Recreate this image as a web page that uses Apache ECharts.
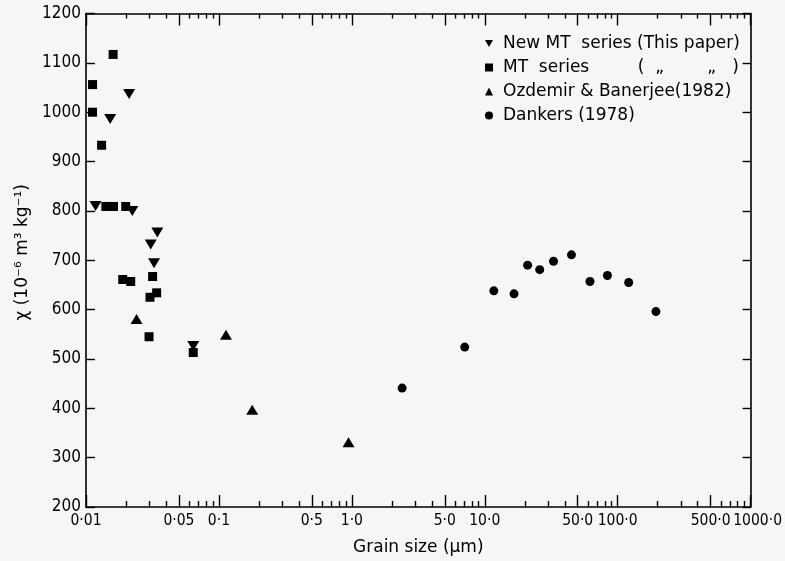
<!DOCTYPE html>
<html>
<head>
<meta charset="utf-8">
<script src="https://cdn.jsdelivr.net/npm/echarts@6/dist/echarts.min.js"></script>
<style>
  html, body { margin: 0; padding: 0; background: #f6f6f5; }
  #chart { width: 785px; height: 561px; }
</style>
</head>
<body>
<div id="chart"></div>
<script>
// Grain size (µm) against susceptibility χ (10^-6 m^3 kg^-1)
const newMtSize = [0.0118, 0.0152, 0.0211, 0.0223, 0.0344, 0.0307, 0.0325, 0.0641];
const newMtChi  = [810, 986, 1037, 800, 756, 732, 694, 526];

const mtSize = [0.0112, 0.0112, 0.0160, 0.0131, 0.0141, 0.0161, 0.0199, 0.0189, 0.0217, 0.0317, 0.0340, 0.0303, 0.0298, 0.0641];
const mtChi  = [1056, 1000, 1117, 933, 809, 809, 809, 661, 657, 667, 634, 625, 545, 513];

const ozSize = [0.0240, 0.113, 0.178, 0.944];
const ozChi  = [581, 549, 397, 331];

const dankersSize = [2.39, 7.07, 11.7, 16.6, 21.0, 25.9, 32.9, 44.9, 61.9, 83.7, 121, 194];
const dankersChi  = [441, 524, 638, 632, 690, 681, 698, 711, 657, 669, 655, 596];

const seriesNames = ['New MT series (This paper)', 'MT series', 'Ozdemir & Banerjee(1982)', 'Dankers (1978)'];

// the end label sits a hair inside the axis end so the scale keeps it
const xLabelValues = [0.01, 0.05, 0.1, 0.5, 1, 5, 10, 50, 100, 500];
const xEndValue = 999.9999;
const xLabelText   = ['0·01', '0·05', '0·1', '0·5', '1·0', '5·0', '10·0', '50·0', '100·0', '500·0', '1000·0'];

const yMin = 200, yMax = 1200, yStep = 100;

// long ticks at 5 and 10 of each decade, short ticks at the other multiples
const decades = [0.01, 0.1, 1, 10, 100];
const majorTicks = [0.01];
const minorTicks = [];
decades.forEach(d => {
  [2, 3, 4, 6, 7, 8, 9].forEach(m => minorTicks.push(+(d * m).toPrecision(4)));
  majorTicks.push(+(d * 5).toPrecision(4), +(d * 10).toPrecision(4));
});
majorTicks[majorTicks.length - 1] = xEndValue;

const pairs = (xs, ys) => xs.map((x, i) => [x, ys[i]]);

const FONT = 'DejaVu Sans';
const NARROW = "'DejaVu Sans Condensed', 'DejaVu Sans'";
const INK = '#000';
const DOWN_TRI = 'path://M0,0 L10,0 L5,8.5 Z';

function xLabel(v) {
  const all = xLabelValues.concat([xEndValue]);
  for (let i = 0; i < all.length; i++) {
    if (Math.abs(Math.log10(v) - Math.log10(all[i])) < 1e-5) return xLabelText[i];
  }
  return '';
}

function logX(position, ticks, tickLen, extra) {
  return Object.assign({
    type: 'log', logBase: 10, min: 0.01, max: 1000, position: position, offset: 0,
    axisLine: { show: true, lineStyle: { color: INK, width: 1.6 } },
    axisTick: { show: true, inside: true, length: tickLen, customValues: ticks, lineStyle: { color: INK, width: 1.4 } },
    axisLabel: { show: false },
    splitLine: { show: false },
    minorTick: { show: false }
  }, extra || {});
}

const labelStyle = { margin: 6, hideOverlap: false, fontFamily: NARROW, fontSize: 15.5, color: INK, formatter: xLabel };

const mtLegendText = 'MT  series' + ' '.repeat(9) + '(' + ' '.repeat(2) + '„' + ' '.repeat(8) + '„' + ' '.repeat(3) + ')';

const chart = echarts.init(document.getElementById('chart'), null, { renderer: 'canvas' });

chart.setOption({
  backgroundColor: '#f6f6f5',
  animation: false,
  textStyle: { fontFamily: FONT, color: INK },
  grid: { left: 86, right: 34, top: 13.5, bottom: 53.7, containLabel: false },
  xAxis: [
    logX('bottom', majorTicks, 12, {
      name: 'Grain size (μm)', nameLocation: 'middle', nameGap: 32,
      nameTextStyle: { fontFamily: FONT, fontSize: 17, color: INK },
      axisLabel: Object.assign({ show: true, customValues: xLabelValues }, labelStyle)
    }),
    logX('bottom', minorTicks, 6, { axisLine: { show: false } }),
    // the 1000·0 label on its own axis, so it never competes with 500·0 for room
    logX('bottom', [], 0, {
      axisLine: { show: false }, axisTick: { show: false },
      axisLabel: Object.assign({ show: true, customValues: [xEndValue], padding: [0, 0, 0, 14] }, labelStyle)
    }),
    logX('top', majorTicks, 12),
    logX('top', minorTicks, 5, { axisLine: { show: false } })
  ],
  yAxis: [
    {
      type: 'value', position: 'left', min: yMin, max: yMax, interval: yStep,
      name: 'χ (10⁻⁶ m³ kg⁻¹)', nameLocation: 'middle', nameGap: 41, nameRotate: 90,
      nameTextStyle: { fontFamily: FONT, fontSize: 17, color: INK, padding: [0, 0, 0, 16] },
      axisLine: { show: true, lineStyle: { color: INK, width: 1.6 } },
      axisTick: { show: true, inside: true, length: 9, lineStyle: { color: INK, width: 1.4 } },
      axisLabel: { show: true, margin: 5, fontFamily: NARROW, fontSize: 17, color: INK, formatter: v => String(v) },
      splitLine: { show: false }
    },
    {
      type: 'value', position: 'right', min: yMin, max: yMax, interval: yStep,
      axisLine: { show: true, lineStyle: { color: INK, width: 1.6 } },
      axisTick: { show: true, inside: true, length: 8, lineStyle: { color: INK, width: 1.4 } },
      axisLabel: { show: false },
      splitLine: { show: false }
    }
  ],
  legend: {
    orient: 'vertical', left: 480, top: 30,
    itemWidth: 8, itemHeight: 8, itemGap: 7,
    textStyle: { fontFamily: FONT, fontSize: 17, color: INK, lineHeight: 17, padding: [0, 0, 0, 5] },
    formatter: name => name === 'MT series' ? mtLegendText : name.replace('New MT series', 'New MT  series'),
    data: [
      { name: seriesNames[0], icon: DOWN_TRI },
      { name: seriesNames[1], icon: 'rect' },
      { name: seriesNames[2], icon: 'triangle' },
      { name: seriesNames[3], icon: 'circle' }
    ],
    selectedMode: false
  },
  series: [
    {
      name: seriesNames[0], type: 'scatter', xAxisIndex: 0, yAxisIndex: 0,
      symbol: DOWN_TRI, symbolSize: [12, 10],
      itemStyle: { color: INK, opacity: 1 },
      data: pairs(newMtSize, newMtChi)
    },
    {
      name: seriesNames[1], type: 'scatter', xAxisIndex: 0, yAxisIndex: 0,
      symbol: 'rect', symbolSize: 9,
      itemStyle: { color: INK, opacity: 1 },
      data: pairs(mtSize, mtChi)
    },
    {
      name: seriesNames[2], type: 'scatter', xAxisIndex: 0, yAxisIndex: 0,
      symbol: 'triangle', symbolSize: [12, 10],
      itemStyle: { color: INK, opacity: 1 },
      data: pairs(ozSize, ozChi)
    },
    {
      name: seriesNames[3], type: 'scatter', xAxisIndex: 0, yAxisIndex: 0,
      symbol: 'circle', symbolSize: 9,
      itemStyle: { color: INK, opacity: 1 },
      data: pairs(dankersSize, dankersChi)
    }
  ]
});
</script>
</body>
</html>
